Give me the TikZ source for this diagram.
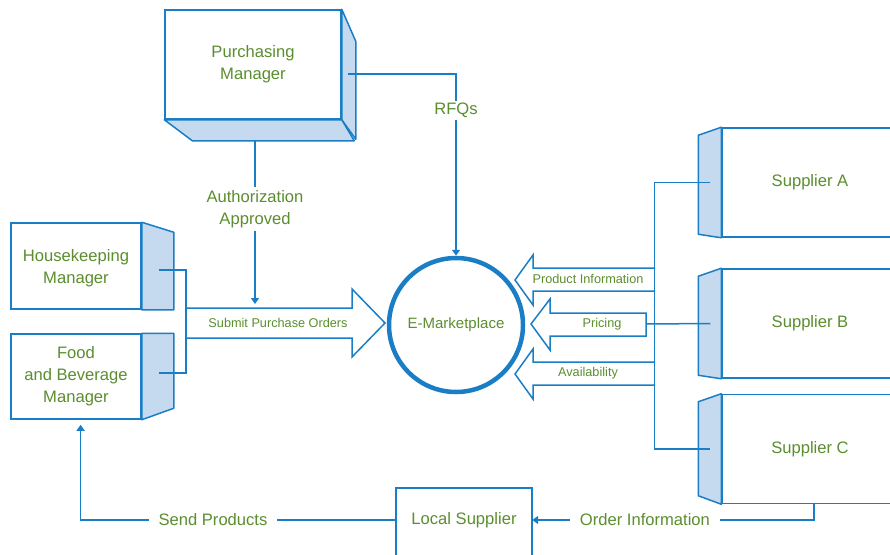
\documentclass[tikz,border=0pt]{standalone}
\usepackage{fontspec}
\setmainfont{Liberation Sans}
\usetikzlibrary{arrows.meta}

\definecolor{lineblue}{HTML}{1A7EC6}
\definecolor{faceblue}{HTML}{C5DAEE}
\definecolor{textgreen}{HTML}{5B8E2E}

\newcommand{\lblfont}{\fontsize{16.6}{22}\selectfont}
\newcommand{\smlfont}{\fontsize{12.7}{15}\selectfont}
\newcommand{\cirfont}{\fontsize{15}{18}\selectfont}

\tikzset{
  front/.style={draw=lineblue, line width=1.5pt, fill=white, align=center, text=textgreen, font=\lblfont},
  side/.style={draw=lineblue, line width=1.5pt, fill=faceblue, line join=round},
  conn/.style={draw=lineblue, line width=1.5pt},
  arr/.style={-{Triangle[length=6pt,width=8pt]}},
  lbl/.style={text=textgreen, font=\lblfont, align=center, fill=white},
  smalllbl/.style={text=textgreen, font=\smlfont},
  fat/.style={draw=lineblue, line width=1.5pt, fill=white},
}

\begin{document}
\begin{tikzpicture}[x=1pt,y=-1pt]
\useasboundingbox (0,0) rectangle (890,554);
\clip (0,0) rectangle (890,554);

% managers
\node[front, minimum width=176pt, minimum height=109pt] (pm) at (253,64.5) {Purchasing\\Manager};
\draw[side] (pm.north east) -- ++(14,32) -- ++(0,98) -- (pm.south east) -- cycle;
\draw[side] (pm.south west) -- ++(28,21) -- ++(162,0) -- (pm.south east) -- cycle;

\node[front, minimum width=130pt, minimum height=86pt, text depth=0pt] (hk) at (76,266) {Housekeeping\\Manager};
\draw[side] (hk.north east) -- ++(32,10) |- (hk.south east) -- cycle;

\node[front, minimum width=130pt, minimum height=85pt] (fb) at (76,376.5) {Food\\and Beverage\\Manager};
\draw[side] (fb.north east) -- ++(32,0) -- ++(0,75) -- (fb.south east) -- cycle;

% suppliers
\foreach \s/\y/\h/\t in {sa/182.5/99/A, sb/323.5/99/B, sc/449/94/C}{
  \node[front, minimum width=176pt, minimum height=109pt] (\s) at (810,\y) {Supplier \t};
  \draw[side] (\s.north west) -- ++(-23,8) -- ++(0,\h) -- (\s.south west) -- cycle;
}

\node[text=textgreen, font=\lblfont, minimum width=136pt, minimum height=64pt] (ls) at (464,520) {Local Supplier};
\draw[conn] ([yshift=-10pt]ls.south west) -- (ls.north west) -- (ls.north east) -- ([yshift=-10pt]ls.south east);

\node[circle, draw=lineblue, line width=4.5pt, minimum size=134pt, text=textgreen, font=\cirfont] (em) at (456,325) {E-Marketplace};

% wide arrows
\draw[fat] (186,308) -- (352,308) -- (352,289) -- (385,323) -- (352,357) -- (352,338) -- (186,338);
\node[smalllbl] (spo) at (278,323) {Submit Purchase Orders};

\draw[fat] (655,268) -- (533,268) -- (533,255) -- (515,280) -- (533,305) -- (533,291) -- (655,291);
\node[smalllbl] (pinfo) at (588,279) {Product Information};
\draw[fat] (646,313) -- (550,313) -- (550,299) -- (531,324) -- (550,350) -- (550,336) -- (646,336) -- cycle;
\node[smalllbl] (price) at (602,324) {Pricing};
\draw[fat] (655,362) -- (533,362) -- (533,349) -- (515,374) -- (533,399) -- (533,385) -- (655,385);
\node[smalllbl] (avail) at (588,373) {Availability};

% connectors
\coordinate (rfq) at (348,74);
\draw[conn, arr] (rfq) -| (em.north) node[lbl, pos=0.6, inner ysep=2pt] {RFQs};

\coordinate (auth) at (255,140);
\coordinate (ordtop) at (255,304);
\draw[conn, arr] (auth) -- (ordtop) node[lbl, pos=0.42, inner ysep=3.5pt] {Authorization\\Approved};

\coordinate (hkc) at (159,270);
\coordinate (fbc) at (159,373);
\draw[conn] (hkc) -| ([xshift=27pt]fbc) -- (fbc);

\coordinate (pr) at (646,324);
\draw[conn] ([xshift=-11pt]sa.west) -- ++(-56,0) |- ([xshift=-11pt]sc.west);
\draw[conn] ([xshift=-11pt]sb.west) -- (pr);

\draw[conn, arr, shorten >=5pt] (ls.west) -| ([xshift=4.6pt]fb.south) node[lbl, pos=0.29, inner xsep=10pt] {Send Products};
\draw[conn, arr] ([xshift=4pt]sc.south) |- (ls.east) node[lbl, pos=0.8, inner xsep=10pt] {Order Information};
\end{tikzpicture}
\end{document}
